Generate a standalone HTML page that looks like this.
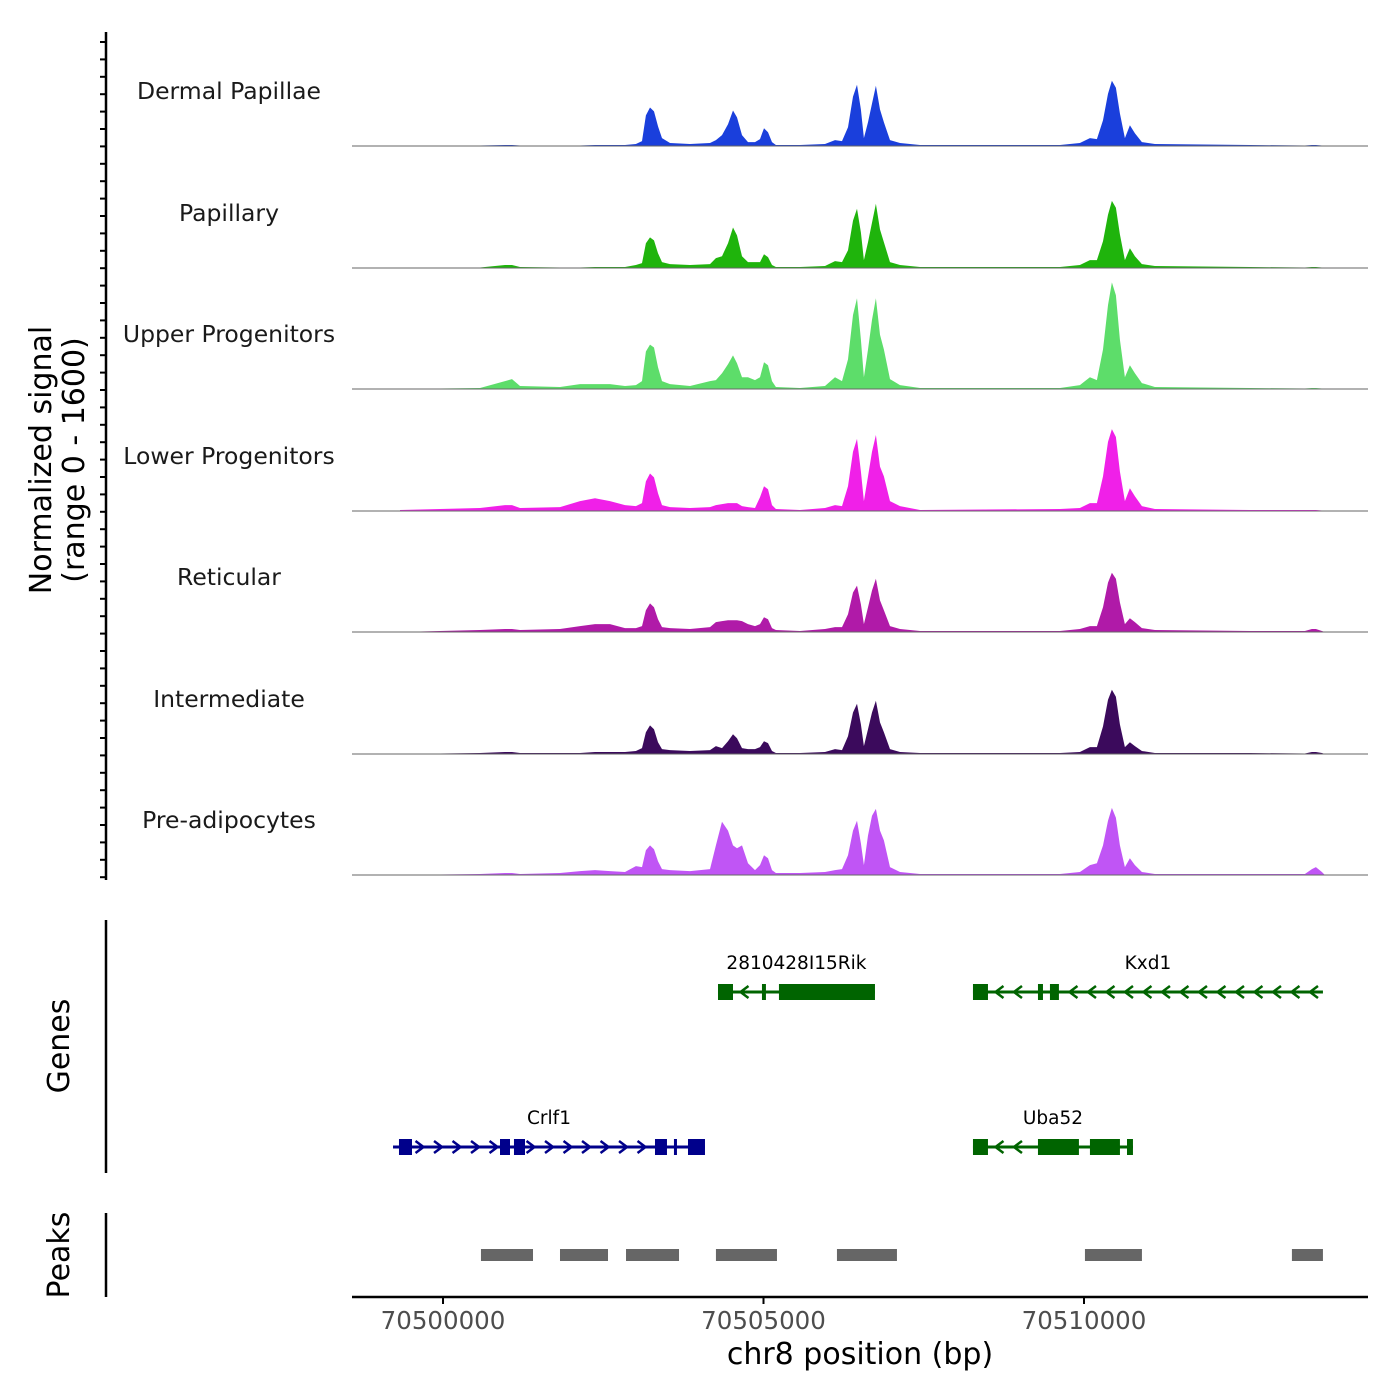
<!DOCTYPE html>
<html><head><meta charset="utf-8"><style>
html,body{margin:0;padding:0;background:#fff;}
svg{display:block;font-family:"DejaVu Sans","Liberation Sans",sans-serif;}
</style></head><body>
<svg id="chart" width="1400" height="1400" viewBox="0 0 1400 1400" xmlns="http://www.w3.org/2000/svg">
<rect width="1400" height="1400" fill="#fff"/>
<g id="tracks"></g>
<g id="yaxis"></g>
<g id="genes"></g>
<g id="peaks"></g>
<g id="xaxis"></g>
<text transform="translate(51,460) rotate(-90)" text-anchor="middle" font-size="30">Normalized signal</text>
<text transform="translate(84,460) rotate(-90)" text-anchor="middle" font-size="30">(range 0 - 1600)</text>
<text transform="translate(69,1046) rotate(-90)" text-anchor="middle" font-size="30">Genes</text>
<text transform="translate(69,1255) rotate(-90)" text-anchor="middle" font-size="30">Peaks</text>
<text x="860" y="1364" text-anchor="middle" font-size="30">chr8 position (bp)</text>
</svg>
<script>
const trackNames = ["Dermal Papillae","Papillary","Upper Progenitors","Lower Progenitors","Reticular","Intermediate","Pre-adipocytes"];
const trackColors = ["#1a3fdc","#1fb40c","#5ddd6a","#f020e8","#b01aa8","#3b0a5c","#c055f5"];
const positions = [70499329,70500577,70500967,70501076,70501201,70501825,70502137,70502371,70502605,70502839,70503010,70503104,70503166,70503229,70503291,70503354,70503416,70503541,70503853,70504165,70504258,70504352,70504446,70504524,70504586,70504664,70504758,70504867,70504945,70505007,70505070,70505132,70505194,70505569,70505959,70506115,70506224,70506318,70506396,70506458,70506520,70506567,70506630,70506692,70506754,70506817,70506879,70506973,70507129,70507441,70509625,70509937,70510093,70510202,70510296,70510374,70510436,70510498,70510561,70510639,70510717,70510795,70510904,70511107,70512589,70513447,70513556,70513618,70513712,70513759];
const sigDermalPapillae = [0,7,13,13,7,7,7,13,13,13,26,65,403,507,455,260,104,39,26,39,78,143,286,468,377,143,52,52,91,234,182,52,13,13,26,78,65,247,650,806,481,104,312,559,793,481,312,78,39,13,13,39,104,91,338,689,858,767,429,104,273,169,52,26,13,7,13,13,7,0];
const sigPapillary = [0,7,39,39,13,7,7,13,13,13,39,65,325,403,364,195,78,52,39,52,130,156,325,533,429,156,78,78,78,182,143,39,13,13,26,91,78,234,624,780,468,104,338,598,845,507,338,78,39,13,13,39,104,104,351,702,884,793,442,104,260,156,52,26,13,7,13,13,7,0];
const sigUpperProgenitors = [0,13,104,130,39,26,65,65,65,39,52,104,494,585,546,286,104,65,39,104,117,208,325,442,338,156,156,117,156,351,312,104,26,13,39,156,104,390,975,1196,650,156,520,910,1196,715,520,130,52,13,13,52,156,117,520,1105,1404,1235,650,156,312,208,78,26,13,7,13,13,7,0];
const sigLowerProgenitors = [13,39,78,78,39,52,130,169,130,78,65,104,390,494,442,234,78,52,39,52,78,91,104,104,104,65,52,39,182,325,286,78,26,13,39,78,65,325,780,949,520,130,455,780,1001,585,455,130,65,13,26,39,104,104,455,910,1079,975,520,130,299,195,65,26,13,13,13,13,7,0];
const sigReticular = [0,26,39,39,26,39,78,104,104,52,52,78,286,377,325,169,65,52,39,65,130,143,156,156,156,143,104,78,104,195,169,52,26,13,39,65,65,234,520,611,364,104,325,546,702,416,286,78,39,13,13,39,78,78,325,650,780,702,390,104,182,130,52,26,13,13,39,39,13,0];
const sigIntermediate = [0,13,26,26,13,13,13,26,26,26,39,78,286,377,325,156,65,52,39,52,104,78,169,260,208,78,65,65,91,169,143,39,13,13,26,65,52,234,546,663,390,104,325,546,702,416,286,65,26,13,13,26,91,91,364,715,845,754,390,91,156,104,39,13,13,7,26,26,13,0];
const sigPreAdipocytes = [0,13,26,26,13,26,52,65,52,39,117,104,325,390,338,182,78,65,52,78,390,702,585,390,351,390,156,65,130,260,221,65,26,26,39,65,78,260,585,715,416,130,520,780,871,585,455,104,39,13,13,39,130,156,390,715,884,754,390,104,221,130,39,13,13,13,78,104,39,0];
const signals = [sigDermalPapillae,sigPapillary,sigUpperProgenitors,sigLowerProgenitors,sigReticular,sigIntermediate,sigPreAdipocytes];
const xTicks = [70500000,70505000,70510000];
const xTickLabels = ["70500000","70505000","70510000"];
const geneNames = ["Crlf1","2810428I15Rik","Kxd1","Uba52"];
const geneStrands = ["+","-","-","-"];
const geneRows = [1,0,0,1];
const geneStarts = [70499220,70504290,70508268,70508268];
const geneEnds = [70504087,70506739,70513728,70510764];
const geneColors = ["#00008b","#006400","#006400","#006400"];
const geneExons = [
  [[70499313,70499516],[70500889,70501045],[70501107,70501279],[70503307,70503494],[70503603,70503634],[70503822,70504087]],
  [[70504290,70504524],[70504976,70505038],[70505241,70506739]],
  [[70508268,70508502],[70509282,70509360],[70509469,70509609]],
  [[70508268,70508502],[70509282,70509921],[70510093,70510561],[70510671,70510764]]
];
const peakStarts = [70500592,70501825,70502855,70504258,70506146,70510015,70513244];
const peakEnds = [70501404,70502574,70503682,70505210,70507082,70510904,70513728];

const NS="http://www.w3.org/2000/svg";
const X0=352,X1=1368,D0=70498580,D1=70514431;
const xs=v=>X0+(v-D0)/(D1-D0)*(X1-X0);
const baselines=[146,268,389,511,632,754,875];
const trackH=121.5, YMAX=1600;
const ys=(v,i)=>baselines[i]-v/YMAX*trackH;
function mk(tag,attrs,parent){const e=document.createElementNS(NS,tag);for(const k in attrs)e.setAttribute(k,attrs[k]);parent.appendChild(e);return e;}

const tg=document.getElementById('tracks');
signals.forEach((arr,i)=>{
  const g=mk('g',{},tg);
  
  
  let d='M'+xs(positions[0]).toFixed(1)+','+baselines[i];
  arr.forEach((v,j)=>{d+=' L'+xs(positions[j]).toFixed(1)+','+ys(v,i).toFixed(1);});
  d+=' L'+xs(positions[positions.length-1]).toFixed(1)+','+baselines[i]+' Z';
  const p=mk('path',{d:d,fill:trackColors[i]},g);
  
  
  const l=mk('line',{x1:X0,x2:X1,y1:baselines[i],y2:baselines[i],stroke:'#666','stroke-width':1},g);
  
  
  const t=mk('text',{x:229,y:baselines[i]-47,'text-anchor':'middle','font-size':23.5,fill:'#1a1a1a'},g);
  t.textContent=trackNames[i];
  
  
});

const ya=document.getElementById('yaxis');
mk('line',{x1:106,x2:106,y1:32,y2:880,stroke:'#000','stroke-width':2.5},ya);
for(let y=42;y<=878;y+=17.4){
  const tk=mk('line',{x1:100,x2:106,y1:y.toFixed(1),y2:y.toFixed(1),stroke:'#000','stroke-width':2},ya);
  
  
}

const gg=document.getElementById('genes');
mk('line',{x1:106,x2:106,y1:920,y2:1173,stroke:'#000','stroke-width':2.5},gg);
const rowY=[992,1147];
geneNames.forEach((name,i)=>{
  const g=mk('g',{},gg);
  
  
  const y=rowY[geneRows[i]], c=geneColors[i];
  const a=xs(geneStarts[i]), b=xs(geneEnds[i]);
  mk('line',{x1:a,x2:b,y1:y,y2:y,stroke:c,'stroke-width':3},g);
  const ex=geneExons[i];
  const inExon=x=>ex.some(e=>x>=xs(e[0])-3&&x<=xs(e[1])+3);
  for(let x=a+8;x<b-4;x+=18.5){
    if(inExon(x))continue;
    const dx=geneStrands[i]==='+'?4:-4;
    mk('polyline',{points:(x-dx)+','+(y-6)+' '+(x+dx)+','+y+' '+(x-dx)+','+(y+6),fill:'none',stroke:c,'stroke-width':2.5},g);
  }
  ex.forEach(e=>{
    const r=mk('rect',{x:xs(e[0]),y:y-8,width:Math.max(3,xs(e[1])-xs(e[0])),height:16,fill:c},g);
    
    
  });
  const t=mk('text',{x:(a+b)/2,y:y-23,'text-anchor':'middle','font-size':18.5,fill:'#000'},g);
  t.textContent=name;
  
  
});

const pg=document.getElementById('peaks');
mk('line',{x1:106,x2:106,y1:1213,y2:1297,stroke:'#000','stroke-width':2.5},pg);
peakStarts.forEach((s,i)=>{
  const r=mk('rect',{x:xs(s),y:1249,width:xs(peakEnds[i])-xs(s),height:12,fill:'#666'},pg);
  
  
});

const xa=document.getElementById('xaxis');
mk('line',{x1:X0,x2:X1,y1:1297,y2:1297,stroke:'#000','stroke-width':2.5},xa);
xTicks.forEach((v,i)=>{
  const x=xs(v);
  const tk=mk('line',{x1:x,x2:x,y1:1297,y2:1304,stroke:'#000','stroke-width':2},xa);
  
  
  const t=mk('text',{x:x,y:1329,'text-anchor':'middle','font-size':24.5,fill:'#4d4d4d'},xa);
  t.textContent=xTickLabels[i];
  
  
});
</script>
</body></html>
